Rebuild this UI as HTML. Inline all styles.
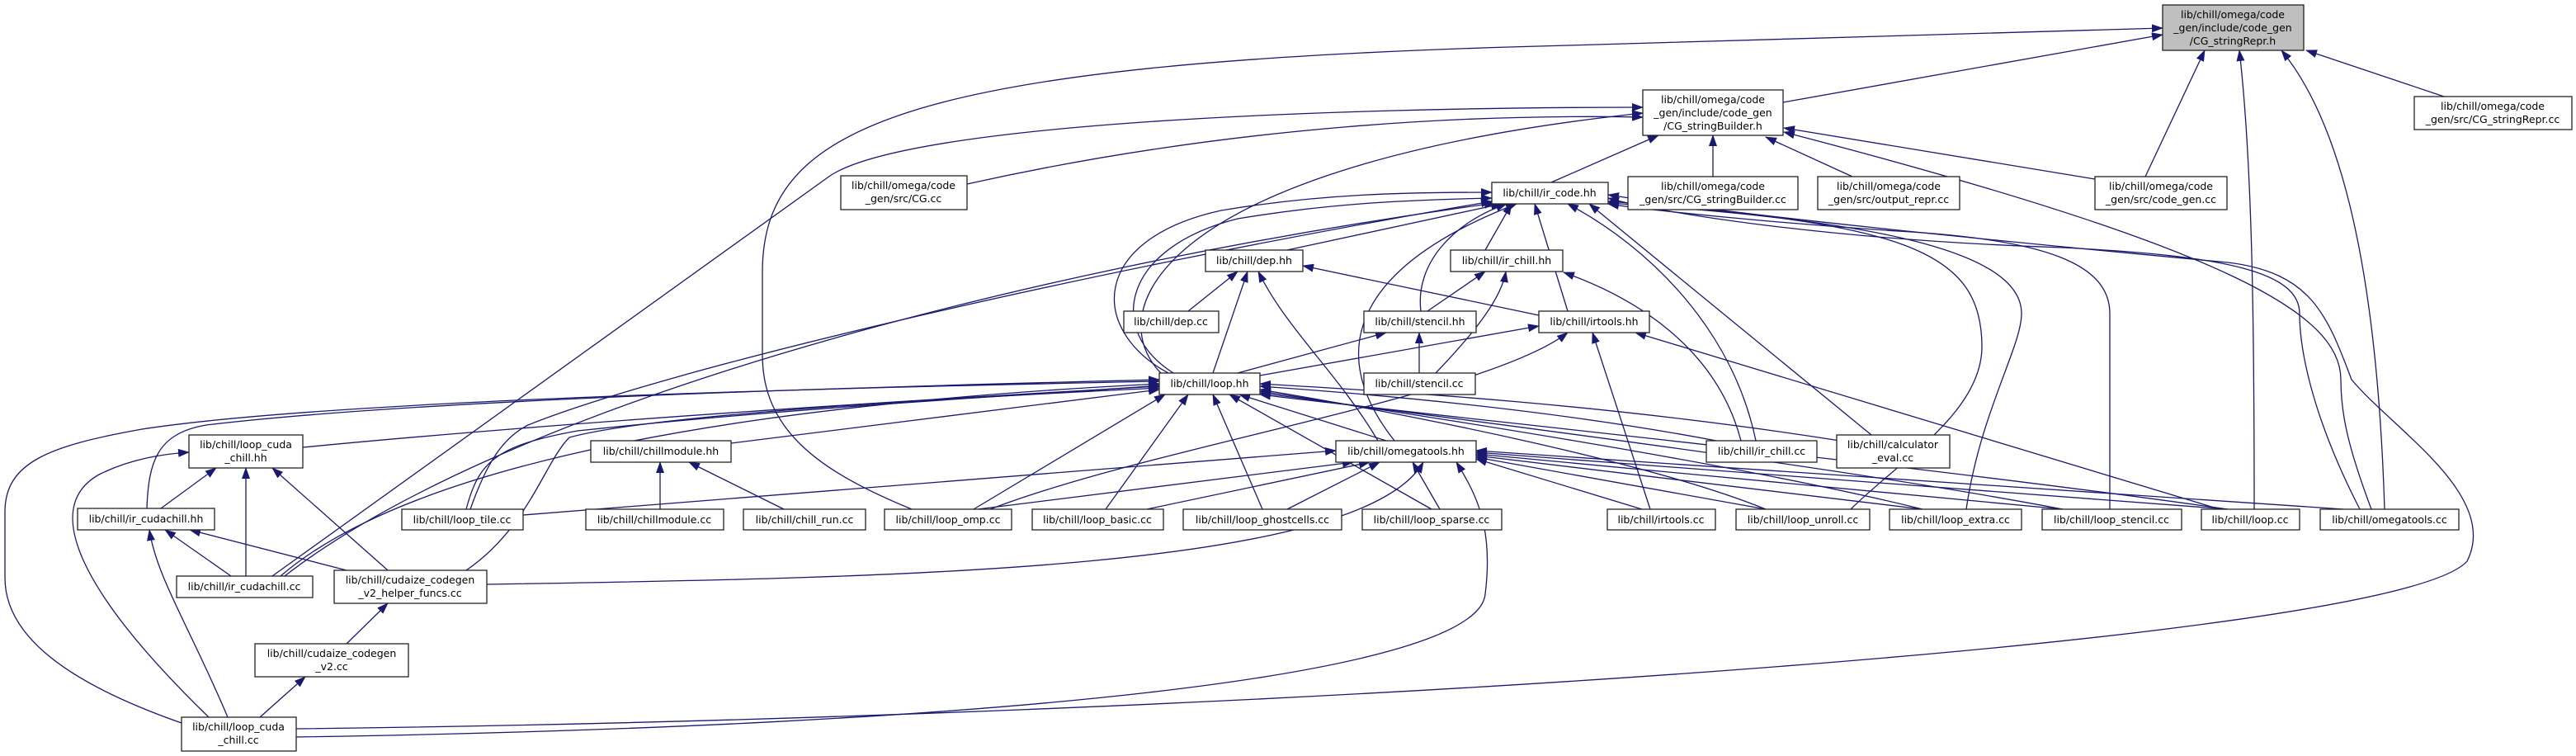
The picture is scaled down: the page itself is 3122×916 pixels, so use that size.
<!DOCTYPE html>
<html><head><meta charset="utf-8"><style>
html,body{margin:0;padding:0;background:#fff;}
svg{display:block;}
text{font-family:"DejaVu Sans","Liberation Sans",sans-serif;font-size:12.5px;fill:#000;text-anchor:middle;}
.n{fill:#fff;stroke:#222;stroke-width:1.3;}
.g{fill:#bfbfbf;stroke:#222;stroke-width:1.3;}
path.e{fill:none;stroke:#191970;stroke-width:1.3;marker-end:url(#ah);}
</style></head><body>
<svg width="3122" height="916" viewBox="0 0 3122 916" xmlns="http://www.w3.org/2000/svg">
<defs><marker id="ah" markerUnits="userSpaceOnUse" markerWidth="14" markerHeight="10" viewBox="0 0 14 10" refX="13" refY="5" orient="auto"><path d="M0,0 L14,5 L0,10 z" fill="#191970"/></marker></defs>
<g>
<!-- into CG_stringRepr.h -->
<path class="e" d="M2161,124 L2621,42"/>
<path class="e" d="M1105,617 C990,570 924,520 924,430 L924,330 C924,150 1100,75 1900,55 C2200,45 2450,38 2621,34"/>
<path class="e" d="M2600,214 L2672,61"/>
<path class="e" d="M2732,617 C2732,400 2730,200 2714,61"/>
<path class="e" d="M2890,617 C2880,300 2830,140 2765,61"/>
<path class="e" d="M2962,117 L2795,61"/>
<!-- into CG_stringBuilder.h -->
<path class="e" d="M1880,221 L2010,164"/>
<path class="e" d="M1172,223 C1500,150 1800,138 1991,142"/>
<path class="e" d="M2076,214 L2076,164"/>
<path class="e" d="M2245,214 L2140,166"/>
<path class="e" d="M2539,217 L2162,155"/>
<path class="e" d="M1410,455 C1330,380 1400,200 1991,137"/>
<path class="e" d="M330,698 L1006,213 C1100,150 1600,130 1991,130"/>
<path class="e" d="M2874,617 C2845,540 2837,500 2837,460 C2837,380 2700,300 2162,160"/>
<!-- into ir_code.hh -->
<path class="e" d="M1416,452 C1320,400 1320,290 1480,255 C1600,235 1700,233 1808,233"/>
<path class="e" d="M1422,452 C1340,400 1360,300 1500,265 C1620,245 1720,242 1808,240"/>
<path class="e" d="M570,617 C590,560 610,530 640,515 C800,450 1300,330 1808,244"/>
<path class="e" d="M345,698 C600,500 1200,330 1812,246"/>
<path class="e" d="M1560,303 L1820,247"/>
<path class="e" d="M1800,303 L1832,247"/>
<path class="e" d="M1722,377 C1715,320 1760,270 1826,247"/>
<path class="e" d="M1900,377 L1860,247"/>
<path class="e" d="M1690,534 C1600,420 1650,320 1838,247"/>
<path class="e" d="M2128,534 C2100,400 2000,300 1900,247"/>
<path class="e" d="M2268,527 L1926,247"/>
<path class="e" d="M2243,617 C2300,560 2402,500 2402,420 C2402,300 2300,270 1949,244"/>
<path class="e" d="M2383,617 C2400,500 2450,420 2450,380 C2450,300 2250,265 1949,246"/>
<path class="e" d="M2557,617 L2557,380 C2557,320 2480,290 2300,280 C2150,270 2000,255 1949,247"/>
<path class="e" d="M2860,617 C2800,500 2787,420 2787,380 C2787,330 2700,310 2500,300 C2200,290 2000,255 1949,240"/>
<path class="e" d="M359,883 C1500,870 2900,780 2990,680 C3030,600 2900,520 2850,460 C2820,380 2800,330 2700,318 C2400,290 2100,260 1949,236"/>
<!-- into dep.hh -->
<path class="e" d="M1440,377 L1500,329"/>
<path class="e" d="M1470,452 L1512,329"/>
<path class="e" d="M1670,534 C1620,450 1560,400 1525,329"/>
<path class="e" d="M1865,382 L1579,322"/>
<!-- into ir_chill.hh -->
<path class="e" d="M1730,377 L1800,329"/>
<path class="e" d="M1740,452 C1790,400 1820,360 1825,329"/>
<path class="e" d="M2110,534 C2080,420 1980,360 1895,330"/>
<!-- into stencil.hh -->
<path class="e" d="M1500,452 L1680,403"/>
<path class="e" d="M1720,452 L1720,403"/>
<!-- into irtools.hh -->
<path class="e" d="M1527,455 L1865,395"/>
<path class="e" d="M2000,617 L1930,403"/>
<path class="e" d="M1200,617 C1400,540 1800,480 1900,403"/>
<path class="e" d="M2690,617 L1982,403"/>
<!-- into loop.hh -->
<path class="e" d="M220,876 C60,820 6,760 6,700 L6,620 C6,560 60,540 172,520 C400,485 1000,470 1405,462"/>
<path class="e" d="M565,691 C640,640 660,560 690,530 C800,500 1200,480 1405,470"/>
<path class="e" d="M565,617 C580,560 600,540 700,522 C1000,490 1300,476 1405,467"/>
<path class="e" d="M340,698 C500,560 900,490 1405,465"/>
<path class="e" d="M178,616 C180,560 190,525 250,515 C500,485 1000,470 1405,460"/>
<path class="e" d="M367,542 C700,510 1100,485 1405,468"/>
<path class="e" d="M886,537 L1405,472"/>
<path class="e" d="M1180,617 L1412,478"/>
<path class="e" d="M1340,617 L1440,478"/>
<path class="e" d="M1530,617 L1470,478"/>
<path class="e" d="M1735,617 L1490,478"/>
<path class="e" d="M1680,534 L1502,478"/>
<path class="e" d="M2080,534 C1900,500 1700,480 1527,468"/>
<path class="e" d="M2230,534 C1950,490 1700,475 1527,465"/>
<path class="e" d="M2140,617 C2000,560 1700,500 1527,472"/>
<path class="e" d="M2330,617 C2100,560 1700,500 1527,474"/>
<path class="e" d="M2500,617 C2200,560 1700,500 1527,476"/>
<path class="e" d="M2700,617 C2300,560 1700,500 1527,478"/>
<!-- into omegatools.hh -->
<path class="e" d="M634,624 L1619,546"/>
<path class="e" d="M1185,617 L1640,560"/>
<path class="e" d="M1390,617 L1660,560"/>
<path class="e" d="M1560,617 L1672,560"/>
<path class="e" d="M1745,617 L1712,560"/>
<path class="e" d="M1990,617 L1789,556"/>
<path class="e" d="M2140,617 L1789,554"/>
<path class="e" d="M2330,617 L1789,552"/>
<path class="e" d="M2500,617 L1789,550"/>
<path class="e" d="M2700,617 L1789,548"/>
<path class="e" d="M2840,617 L1789,546"/>
<path class="e" d="M590,708 C1100,700 1650,690 1725,560"/>
<path class="e" d="M359,893 C1200,880 1790,820 1800,720 C1810,640 1790,600 1765,560"/>
<!-- chillmodule.hh -->
<path class="e" d="M800,617 L800,560"/>
<path class="e" d="M950,617 L835,560"/>
<!-- loop_cuda_chill.hh -->
<path class="e" d="M195,616 L262,567"/>
<path class="e" d="M298,698 L298,567"/>
<path class="e" d="M470,691 L330,567"/>
<path class="e" d="M253,869 C120,740 40,620 120,575 C160,555 200,550 229,548"/>
<!-- ir_cudachill.hh -->
<path class="e" d="M280,698 L200,642"/>
<path class="e" d="M420,691 L230,642"/>
<path class="e" d="M276,869 C230,760 190,700 181,642"/>
<!-- helper funcs / v2 -->
<path class="e" d="M420,780 L470,731"/>
<path class="e" d="M315,869 L370,820"/>
</g>
<g>
<rect class="g" x="2621" y="6" width="171" height="55"/>
<text x="2706" y="22">lib/chill/omega/code</text><text x="2706" y="38">_gen/include/code_gen</text><text x="2706" y="54">/CG_stringRepr.h</text>
<rect class="n" x="1991" y="109" width="170" height="55"/>
<text x="2076" y="125">lib/chill/omega/code</text><text x="2076" y="141">_gen/include/code_gen</text><text x="2076" y="157">/CG_stringBuilder.h</text>
<rect class="n" x="2926" y="117" width="191" height="40"/>
<text x="3021" y="133">lib/chill/omega/code</text><text x="3021" y="149">_gen/src/CG_stringRepr.cc</text>
<rect class="n" x="1019" y="213" width="153" height="41"/>
<text x="1095" y="229">lib/chill/omega/code</text><text x="1095" y="245">_gen/src/CG.cc</text>
<rect class="n" x="1973" y="214" width="206" height="40"/>
<text x="2076" y="230">lib/chill/omega/code</text><text x="2076" y="246">_gen/src/CG_stringBuilder.cc</text>
<rect class="n" x="2203" y="214" width="172" height="40"/>
<text x="2289" y="230">lib/chill/omega/code</text><text x="2289" y="246">_gen/src/output_repr.cc</text>
<rect class="n" x="2539" y="214" width="160" height="40"/>
<text x="2619" y="230">lib/chill/omega/code</text><text x="2619" y="246">_gen/src/code_gen.cc</text>
<rect class="n" x="1808" y="221" width="141" height="26"/><text x="1878" y="238">lib/chill/ir_code.hh</text>
<rect class="n" x="1461" y="303" width="118" height="26"/><text x="1520" y="320">lib/chill/dep.hh</text>
<rect class="n" x="1758" y="303" width="136" height="26"/><text x="1826" y="320">lib/chill/ir_chill.hh</text>
<rect class="n" x="1362" y="377" width="115" height="26"/><text x="1419" y="394">lib/chill/dep.cc</text>
<rect class="n" x="1653" y="377" width="136" height="26"/><text x="1721" y="394">lib/chill/stencil.hh</text>
<rect class="n" x="1865" y="377" width="134" height="26"/><text x="1932" y="394">lib/chill/irtools.hh</text>
<rect class="n" x="1405" y="452" width="122" height="26"/><text x="1466" y="469">lib/chill/loop.hh</text>
<rect class="n" x="1653" y="452" width="135" height="26"/><text x="1720" y="469">lib/chill/stencil.cc</text>
<rect class="n" x="229" y="527" width="138" height="40"/>
<text x="298" y="543">lib/chill/loop_cuda</text><text x="298" y="559">_chill.hh</text>
<rect class="n" x="716" y="534" width="170" height="26"/><text x="801" y="551">lib/chill/chillmodule.hh</text>
<rect class="n" x="1619" y="534" width="170" height="26"/><text x="1704" y="551">lib/chill/omegatools.hh</text>
<rect class="n" x="2068" y="534" width="134" height="26"/><text x="2135" y="551">lib/chill/ir_chill.cc</text>
<rect class="n" x="2226" y="527" width="137" height="40"/>
<text x="2294" y="543">lib/chill/calculator</text><text x="2294" y="559">_eval.cc</text>
<rect class="n" x="94" y="616" width="166" height="26"/><text x="177" y="633">lib/chill/ir_cudachill.hh</text>
<rect class="n" x="487" y="617" width="147" height="25"/><text x="560" y="634">lib/chill/loop_tile.cc</text>
<rect class="n" x="710" y="617" width="167" height="25"/><text x="793" y="634">lib/chill/chillmodule.cc</text>
<rect class="n" x="901" y="617" width="148" height="25"/><text x="975" y="634">lib/chill/chill_run.cc</text>
<rect class="n" x="1072" y="617" width="154" height="25"/><text x="1149" y="634">lib/chill/loop_omp.cc</text>
<rect class="n" x="1251" y="617" width="159" height="25"/><text x="1330" y="634">lib/chill/loop_basic.cc</text>
<rect class="n" x="1434" y="617" width="192" height="25"/><text x="1530" y="634">lib/chill/loop_ghostcells.cc</text>
<rect class="n" x="1651" y="617" width="169" height="25"/><text x="1735" y="634">lib/chill/loop_sparse.cc</text>
<rect class="n" x="1948" y="617" width="131" height="25"/><text x="2013" y="634">lib/chill/irtools.cc</text>
<rect class="n" x="2104" y="617" width="162" height="25"/><text x="2185" y="634">lib/chill/loop_unroll.cc</text>
<rect class="n" x="2290" y="617" width="160" height="25"/><text x="2370" y="634">lib/chill/loop_extra.cc</text>
<rect class="n" x="2475" y="617" width="169" height="25"/><text x="2559" y="634">lib/chill/loop_stencil.cc</text>
<rect class="n" x="2668" y="617" width="119" height="25"/><text x="2727" y="634">lib/chill/loop.cc</text>
<rect class="n" x="2812" y="617" width="168" height="25"/><text x="2896" y="634">lib/chill/omegatools.cc</text>
<rect class="n" x="214" y="698" width="165" height="26"/><text x="296" y="715">lib/chill/ir_cudachill.cc</text>
<rect class="n" x="405" y="691" width="185" height="40"/>
<text x="497" y="707">lib/chill/cudaize_codegen</text><text x="497" y="723">_v2_helper_funcs.cc</text>
<rect class="n" x="309" y="780" width="186" height="40"/>
<text x="402" y="796">lib/chill/cudaize_codegen</text><text x="402" y="812">_v2.cc</text>
<rect class="n" x="220" y="869" width="139" height="41"/>
<text x="289" y="885">lib/chill/loop_cuda</text><text x="289" y="901">_chill.cc</text>
</g>
</svg>
</body></html>
